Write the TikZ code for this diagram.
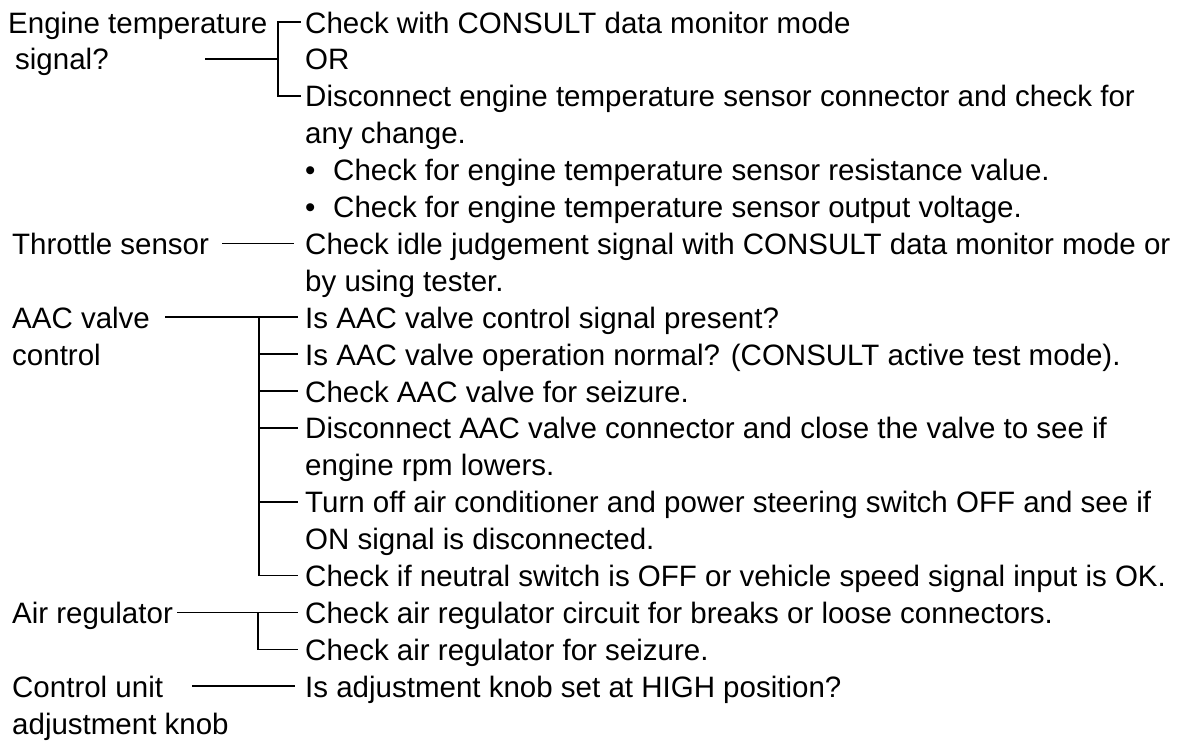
\documentclass[tikz,border=0pt]{standalone}
\usepackage{fontspec}
\setmainfont{Liberation Sans}
\begin{document}
\begin{tikzpicture}[x=1pt,y=-1pt,
  txt/.style={anchor=west, inner sep=0pt, text height=22pt, text depth=0pt,
    font=\fontsize{29.5}{32}\selectfont},
  conn/.style={line width=1.6pt, line cap=butt}]
\useasboundingbox[fill=white] (0,0) rectangle (1183,740);
% left labels
\node[txt] (l1) at (8,22) {Engine temperature};
\node[txt] (l2) at (15,58.9) {signal?};
\node[txt] (l7) at (12,243.4) {Throttle sensor};
\node[txt] (l9) at (12,317.2) {AAC valve};
\node[txt] (l10) at (12,354.1) {control};
\node[txt] (l17) at (12,612.4) {Air regulator};
\node[txt] (l19) at (12,686.2) {Control unit};
\node[txt] (l20) at (12,723.1) {adjustment knob};
% right texts
\node[txt] (r1) at (305,22) {Check with CONSULT data monitor mode};
\node[txt] (r2) at (305,58.9) {OR};
\node[txt] (r3) at (305,95.8) {Disconnect engine temperature sensor connector and check for};
\node[txt] (r4) at (305,132.7) {any change.};
\node[txt] (b5) at (305,169.6) {•};
\node[txt] (r5) at (333,169.6) {Check for engine temperature sensor resistance value.};
\node[txt] (b6) at (305,206.5) {•};
\node[txt] (r6) at (333,206.5) {Check for engine temperature sensor output voltage.};
\node[txt] (r7) at (305,243.4) {Check idle judgement signal with CONSULT data monitor mode or};
\node[txt] (r8) at (305,280.3) {by using tester.};
\node[txt] (r9) at (305,317.2) {Is AAC valve control signal present?};
\node[txt] (r10) at (305,354.1) {Is AAC valve operation normal? (CONSULT active test mode).};
\node[txt] (r11) at (305,391) {Check AAC valve for seizure.};
\node[txt] (r12) at (305,427.9) {Disconnect AAC valve connector and close the valve to see if};
\node[txt] (r13) at (305,464.8) {engine rpm lowers.};
\node[txt] (r14) at (305,501.7) {Turn off air conditioner and power steering switch OFF and see if};
\node[txt] (r15) at (305,538.6) {ON signal is disconnected.};
\node[txt] (r16) at (305,575.5) {Check if neutral switch is OFF or vehicle speed signal input is OK.};
\node[txt] (r17) at (305,612.4) {Check air regulator circuit for breaks or loose connectors.};
\node[txt] (r18) at (305,649.3) {Check air regulator for seizure.};
\node[txt] (r19) at (305,686.2) {Is adjustment knob set at HIGH position?};
% connector points
\coordinate (a1) at (205,58.9);
\coordinate (j1) at (278,58.9);
\coordinate (a7) at (222,243.4);
\coordinate (a9) at (165,317.2);
\coordinate (a17) at (177,612.4);
\coordinate (a19) at (192,686.2);
% engine temperature bracket
\draw[conn] (a1) -- (j1);
\draw[conn] ([xshift=-4pt]r1.west) -| (j1) |- ([xshift=-4pt]r3.west);
% throttle sensor
\draw[conn] (a7) -- ([xshift=-11pt]r7.west);
% AAC valve
\draw[conn] (a9) -- ([xshift=-7pt]r9.west);
\draw[conn] ([xshift=-46pt]r9.west) |- ([xshift=-7pt]r16.west);
\foreach \r in {r10,r11,r12,r14}
  \draw[conn] ([xshift=-46pt]\r.west) -- ([xshift=-7pt]\r.west);
% air regulator
\draw[conn] (a17) -- ([xshift=-7pt]r17.west);
\draw[conn] ([xshift=-47pt]r17.west) |- ([xshift=-7pt]r18.west);
% control unit
\draw[conn] (a19) -- ([xshift=-10pt]r19.west);
\end{tikzpicture}
\end{document}
